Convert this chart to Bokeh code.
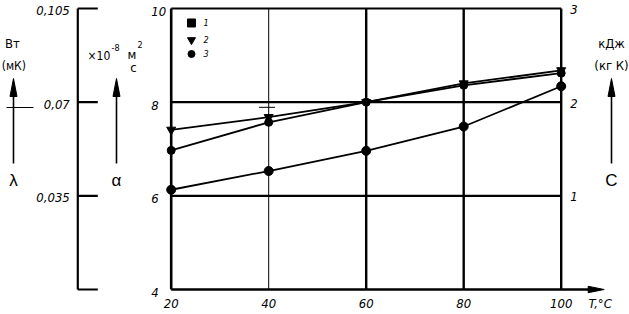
from bokeh.plotting import figure
from bokeh.models import Range1d
from bokeh.core.properties import value
from bokeh.embed import file_html
from bokeh.resources import INLINE

# ---------------- data ----------------
temps = [20, 40, 60, 80, 100]                 # T, °C
series1 = [6.13, 6.53, 6.96, 7.48, 8.34]      # curve 1 (lower)
series2 = [7.41, 7.68, 8.00, 8.40, 8.68]      # curve 2 (triangles)
series3 = [6.97, 7.57, 8.00, 8.36, 8.62]      # curve 3 (circles)
legend_labels = ["1", "2", "3"]

x_ticks = [20, 40, 60, 80, 100]
x_tick_labels = ["20", "40", "60", "80", "100"]
a_ticks = [4, 6, 8, 10]                       # alpha, x10^-8 m2/s
a_tick_labels = ["4", "6", "8", "10"]
lam_ticks = [0.0, 0.035, 0.07, 0.105]         # lambda, W/(m K)
lam_tick_labels = ["0,035", "0,07", "0,105"]
c_ticks = [1, 2, 3]                           # c, kJ/(kg K)
c_tick_labels = ["1", "2", "3"]
cap_mark_x = [38.0, 41.3]                     # small stroke above point at 40
cap_mark_y = [7.89, 7.89]

# ---------------- layout ----------------
W, H = 629, 314
X0, X1 = -15.015, 114.01
Y0, Y1 = 3.4662, 10.1708
LAM_K = 0.0175      # lambda per alpha unit
PXX = W / (X1 - X0)
PXY = H / (Y1 - Y0)


def dx(px):
    return px / PXX


def dy(px):
    return px / PXY


p = figure(width=W, height=H, x_range=Range1d(X0, X1), y_range=Range1d(Y0, Y1),
           output_backend="svg", toolbar_location=None, min_border=0,
           x_axis_location=None, y_axis_location=None,
           outline_line_color=None, background_fill_color="white",
           border_fill_color="white")
p.xgrid.visible = False
p.ygrid.visible = False
p.extra_y_ranges = {
    "lam": Range1d((Y0 - 4) * LAM_K, (Y1 - 4) * LAM_K),
    "c": Range1d((Y0 - 4) / 2, (Y1 - 4) / 2),
}

FONT = value("Liberation Sans Narrow, DejaVu Sans Condensed, sans-serif")
INK = "black"

# frame: horizontal lines
h_levels = a_ticks[1:]
p.segment(x0=[x_ticks[0]] * len(h_levels), x1=[x_ticks[-1]] * len(h_levels),
          y0=h_levels, y1=h_levels, line_color=INK, line_width=[2.2, 2.2, 1.8])
# x axis with arrow
ax_end = x_ticks[-1] + dx(29)
p.segment(x0=[x_ticks[0]], x1=[ax_end], y0=[a_ticks[0]], y1=[a_ticks[0]],
          line_color=INK, line_width=2.4)
p.patch(x=[ax_end - dx(2), ax_end + dx(14), ax_end - dx(2)],
        y=[a_ticks[0] + dy(3.2), a_ticks[0], a_ticks[0] - dy(3.2)],
        color=INK, line_width=1)
# vertical lines
v_widths = [2.6, 1.0, 2.4, 2.4, 2.4]
p.segment(x0=x_ticks, x1=x_ticks, y0=[a_ticks[0]] * 5, y1=[a_ticks[-1]] * 5,
          line_color=INK, line_width=v_widths)

# lambda axis
LAM_X = x_ticks[0] - dx(93.4)
p.segment(x0=[LAM_X], x1=[LAM_X], y0=[lam_ticks[0]], y1=[lam_ticks[-1]],
          y_range_name="lam", line_color=INK, line_width=2.2)
p.segment(x0=[LAM_X] * 4, x1=[LAM_X + dx(20)] * 4, y0=lam_ticks, y1=lam_ticks,
          y_range_name="lam", line_color=INK, line_width=2.2)
p.text(x=[LAM_X - dx(8)] * 3, y=lam_ticks[1:], text=lam_tick_labels,
       y_range_name="lam", text_align="right", text_baseline="middle",
       y_offset=2, text_font=FONT, text_font_style="italic",
       text_font_size="13px", text_color=INK)

# alpha tick labels (left of frame)
p.text(x=[x_ticks[0] - dx(20)] * 4, y=a_ticks, text=a_tick_labels,
       text_align="left", text_baseline="middle", y_offset=3,
       text_font=FONT, text_font_style="italic", text_font_size="13px",
       text_color=INK)
# c tick labels (right of frame)
p.text(x=[x_ticks[-1] + dx(9)] * 3, y=c_ticks, text=c_tick_labels,
       y_range_name="c", text_align="left", text_baseline="middle", y_offset=1,
       text_font=FONT, text_font_style="italic", text_font_size="13px",
       text_color=INK)
# x tick labels
p.text(x=x_ticks, y=[a_ticks[0] - dy(14)] * 5, text=x_tick_labels,
       text_align="center", text_baseline="middle",
       text_font=FONT, text_font_style="italic", text_font_size="13px",
       text_color=INK)
p.text(x=[x_ticks[-1] + dx(39)], y=[a_ticks[0] - dy(14)], text=["T,°C"],
       text_align="center", text_baseline="middle",
       text_font=FONT, text_font_style="italic", text_font_size="13px",
       text_color=INK)

# ---------------- vertical quantity arrows ----------------
ARROW_TIP = a_ticks[0] + dy(211)
ARROW_BASE = a_ticks[0] + dy(126)
arrow_xs = [x_ticks[0] - dx(157.7), x_ticks[0] - dx(54.7), x_ticks[-1] + dx(50.3)]
p.segment(x0=arrow_xs, x1=arrow_xs, y0=[ARROW_BASE] * 3, y1=[ARROW_TIP - dy(10)] * 3,
          line_color=INK, line_width=1.6)
p.patches(xs=[[ax - dx(3.5), ax, ax + dx(3.5)] for ax in arrow_xs],
          ys=[[ARROW_TIP - dy(18), ARROW_TIP, ARROW_TIP - dy(18)]] * 3,
          color=INK, line_width=1)
# small cross stroke on lambda arrow
p.segment(x0=[arrow_xs[0] - dx(7)], x1=[arrow_xs[0] + dx(20)],
          y0=[a_ticks[0] + dy(182)], y1=[a_ticks[0] + dy(182)],
          line_color=INK, line_width=1)

SYM_Y = a_ticks[0] + dy(109)
p.text(x=arrow_xs, y=[SYM_Y] * 3, text=["λ", "α", "C"], text_align="center",
       text_baseline="middle", text_font=value("Liberation Sans"),
       text_font_size="17px", text_color=INK)

UNIT_Y1 = a_ticks[0] + dy(246)
UNIT_Y2 = a_ticks[0] + dy(224)
p.text(x=[arrow_xs[0] - dx(1), arrow_xs[2], arrow_xs[2]],
       y=[UNIT_Y1, UNIT_Y1, UNIT_Y2],
       text=["Вт", "кДж", "(кг К)"], text_align="center",
       text_baseline="middle", text_font=FONT, text_font_size="13px",
       text_color=INK)
p.text(x=[x_ticks[0] - dx(169.5)], y=[UNIT_Y2], text=["(мК)"],
       text_align="left", text_baseline="middle", text_font=FONT,
       text_font_size="12px", text_color=INK)
# alpha unit: x10^-8 m^2 / c
ux = arrow_xs[1]
p.text(x=[ux - dx(29)], y=[a_ticks[0] + dy(234)], text=["×10"],
       text_align="left", text_baseline="middle", text_font=FONT,
       text_font_size="12px", text_color=INK)
p.text(x=[ux - dx(5)], y=[a_ticks[0] + dy(242)], text=["-8"],
       text_align="left", text_baseline="middle", text_font=FONT,
       text_font_size="9px", text_color=INK)
p.text(x=[ux + dx(11)], y=[a_ticks[0] + dy(235)], text=["м"],
       text_align="left", text_baseline="middle", text_font=FONT,
       text_font_size="13px", text_color=INK)
p.text(x=[ux + dx(21)], y=[a_ticks[0] + dy(245)], text=["2"],
       text_align="left", text_baseline="middle", text_font=FONT,
       text_font_size="9px", text_color=INK)
p.text(x=[ux + dx(17)], y=[a_ticks[0] + dy(222)], text=["с"],
       text_align="center", text_baseline="middle", text_font=FONT,
       text_font_size="13px", text_color=INK)

# ---------------- data series ----------------
p.line(temps, series1, line_color=INK, line_width=1.8)
p.line(temps, series2, line_color=INK, line_width=1.8)
p.line(temps, series3, line_color=INK, line_width=1.8)
p.scatter(temps, series1, marker="circle", size=9, color=INK)
p.scatter(temps, series2, marker="inverted_triangle", size=9, color=INK)
p.scatter(temps, series3, marker="circle", size=8, color=INK)
p.line(cap_mark_x, cap_mark_y, line_color=INK, line_width=1)

# ---------------- legend (hand placed) ----------------
LEG_X = x_ticks[0] + dx(20.3)
leg_ys = [a_ticks[-1] - dy(14.5), a_ticks[-1] - dy(31.5), a_ticks[-1] - dy(45.5)]
p.scatter([LEG_X], [leg_ys[0]], marker="square", size=8, color=INK)
p.scatter([LEG_X], [leg_ys[1]], marker="inverted_triangle", size=8, color=INK)
p.scatter([LEG_X], [leg_ys[2]], marker="circle", size=7, color=INK)
p.text(x=[LEG_X + dx(12)] * 3, y=leg_ys, text=legend_labels, text_align="left",
       text_baseline="middle", text_font=FONT, text_font_style="italic",
       text_font_size="9px", text_color=INK)

open("out.html", "w").write(file_html(p, INLINE))
